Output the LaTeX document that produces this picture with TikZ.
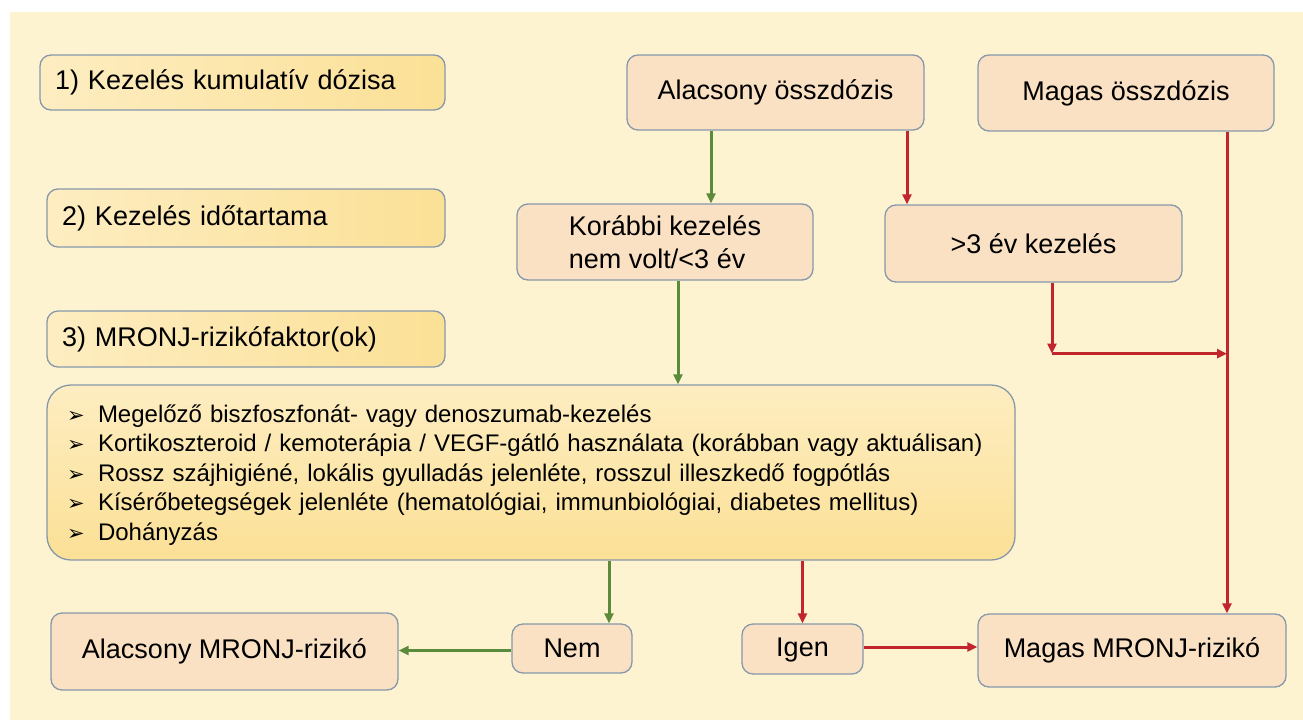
\documentclass[tikz,border=0pt]{standalone}
\usepackage{fontspec}
\setmainfont{Liberation Sans}
\newfontfamily\dejavu{DejaVu Sans}
\usetikzlibrary{arrows.meta,calc}
\definecolor{bgc}{RGB}{254,243,209}
\definecolor{peachc}{RGB}{250,225,196}
\definecolor{bordc}{RGB}{134,152,170}
\definecolor{ylight}{RGB}{253,237,193}
\definecolor{ydark}{RGB}{251,224,150}
\definecolor{greenc}{RGB}{90,138,58}
\definecolor{redc}{RGB}{192,38,44}
\newcommand{\bul}{\makebox[31pt][l]{\dejavu\fontsize{21}{21}\selectfont ➢}}
\tikzset{
  peach/.style={draw=bordc, line width=1.3pt, rounded corners=11pt, fill=peachc,
    font=\fontsize{27}{33}\selectfont, align=left, inner sep=0pt},
  ybox/.style={draw=bordc, line width=1.3pt, rounded corners=11pt,
    left color=ylight, right color=ydark,
    font=\fontsize{27}{33}\selectfont, align=left, inner xsep=15pt, inner ysep=0pt},
  bigbox/.style={draw=bordc, line width=1.3pt, rounded corners=24pt,
    top color=ylight, bottom color=ydark,
    font=\fontsize{24}{29.5}\selectfont, align=left, inner xsep=20pt, inner ysep=0pt},
  garrow/.style={draw=greenc, line width=3pt, -{Triangle[length=10pt,width=9pt]}},
  rarrow/.style={draw=redc, line width=3pt, -{Triangle[length=10pt,width=9pt]}}
}
\begin{document}
\begin{tikzpicture}[x=1pt,y=-1pt]
\useasboundingbox (0,0) rectangle (1303,720);
\fill[white] (0,0) rectangle (1303,720);
\fill[bgc] (10,12) rectangle (1303,720);

% left numbered boxes
\node[ybox, minimum width=405pt, minimum height=55pt, text width=375pt] (k1) at (242.5,82.5) {1) Kezelés kumulatív dózisa};
\node[ybox, minimum width=398pt, minimum height=58pt, text width=368pt] (k2) at (246,218) {2) Kezelés időtartama};
\node[ybox, minimum width=398pt, minimum height=56pt, text width=368pt] (k3) at (246,339) {3) MRONJ-rizikófaktor(ok)};

% peach boxes
\node[peach, minimum width=297pt, minimum height=75pt] (alow) at (775.5,92.5) {Alacsony összdózis};
\node[peach, minimum width=296pt, minimum height=76pt] (ahigh) at (1126,93) {Magas összdózis};
\node[peach, minimum width=296pt, minimum height=76pt] (kor) at (665,242) {Korábbi kezelés\\nem volt/<3 év};
\node[peach, minimum width=297pt, minimum height=77pt] (ev3) at (1033.5,243.5) {>3 év kezelés};

% big box
\node[bigbox, minimum width=968pt, minimum height=175pt, text width=928pt] (big) at (531,472.5) {%
\rule{0pt}{22pt}\bul Megelőző biszfoszfonát- vagy denoszumab-kezelés\\
\bul Kortikoszteroid / kemoterápia / VEGF-gátló használata (korábban vagy aktuálisan)\\
\bul Rossz szájhigiéné, lokális gyulladás jelenléte, rosszul illeszkedő fogpótlás\\
\bul Kísérőbetegségek jelenléte (hematológiai, immunbiológiai, diabetes mellitus)\\
\bul Dohányzás};

% bottom row
\node[peach, minimum width=347pt, minimum height=77pt] (lowrisk) at (224.5,651.5) {Alacsony MRONJ-rizikó};
\node[peach, minimum width=120pt, minimum height=49pt] (nem) at (572,648.5) {Nem};
\node[peach, minimum width=121pt, minimum height=50pt] (igen) at (802.5,649) {\rule{0pt}{21pt}Igen};
\node[peach, minimum width=308pt, minimum height=73pt] (highrisk) at (1132,650.5) {Magas MRONJ-rizikó};

% connectors
\draw[garrow] ([xshift=-64.5pt]alow.south) -- ([xshift=-64.5pt]alow.south |- kor.north);
\draw[rarrow] ([xshift=131.5pt]alow.south) -- ([xshift=131.5pt]alow.south |- ev3.north);
\draw[rarrow] ([xshift=101pt]ahigh.south) -- ([xshift=101pt]ahigh.south |- highrisk.north);
\coordinate (c1) at ($([xshift=18.5pt]ev3.south)+(0,71)$);
\coordinate (j1) at ([xshift=101pt]ahigh.south |- c1);
\draw[rarrow] ([xshift=18.5pt]ev3.south) -- (c1);
\draw[rarrow] (c1) -- (j1);
\draw[garrow] ([xshift=13pt]kor.south) -- ([xshift=13pt]kor.south |- big.north);
\draw[garrow] ([xshift=37pt]nem.north |- big.south) -- ([xshift=37pt]nem.north);
\draw[rarrow] (igen.north |- big.south) -- (igen.north);
\draw[garrow] ([yshift=-2pt]nem.west) -- ([yshift=-2pt]nem.west -| lowrisk.east);
\draw[rarrow] ([yshift=2pt]igen.east) -- ([yshift=2pt]igen.east -| highrisk.west);
\end{tikzpicture}
\end{document}
